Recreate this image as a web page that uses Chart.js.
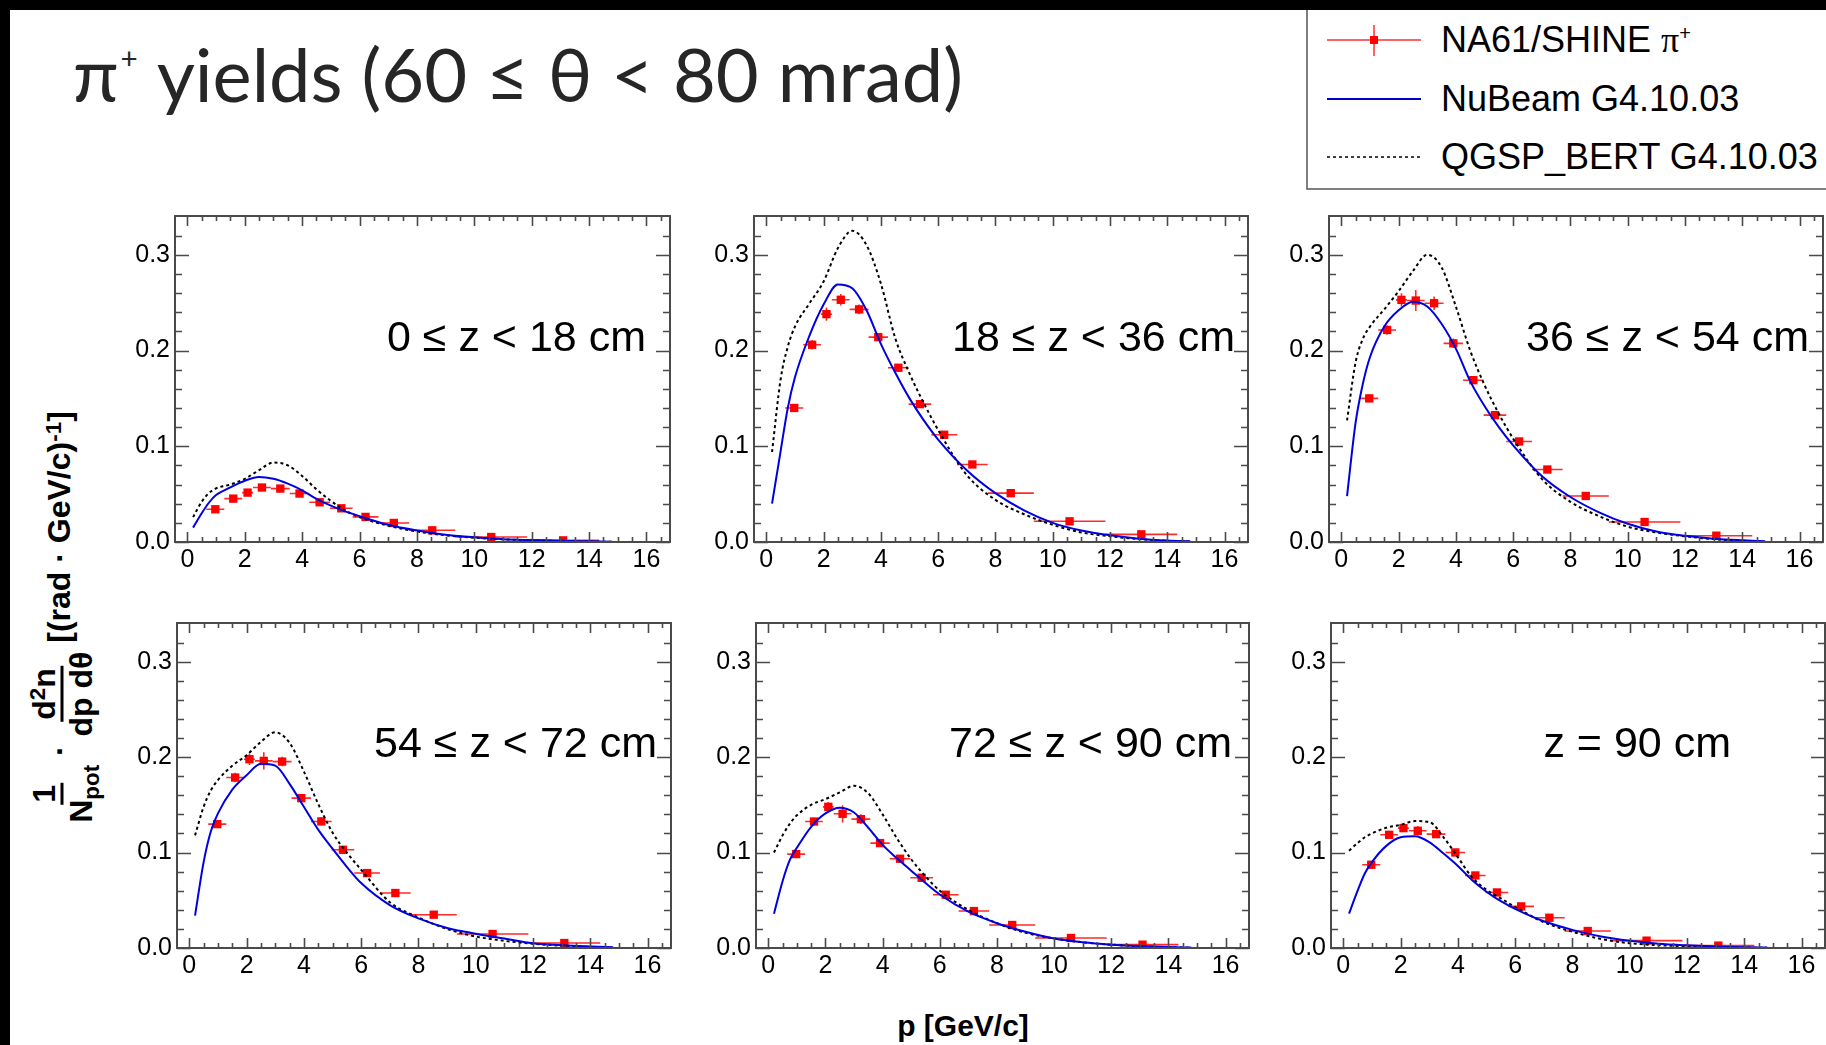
<!DOCTYPE html>
<html>
<head>
<meta charset="utf-8">
<script src="https://cdn.jsdelivr.net/npm/chart.js@4.4.0/dist/chart.umd.min.js"></script>
<style>
  html, body { margin:0; padding:0; width:1826px; height:1045px; overflow:hidden; background:#fff; }
  .abs { position:absolute; }
  #bandTop { left:0; top:0; width:1826px; height:10px; background:#000; z-index:10; }
  #bandLeft { left:0; top:0; width:10px; height:1045px; background:#000; z-index:10; }
  canvas { position:absolute; }
  #title { left:73px; top:37px; font-family:'Lato','Open Sans',sans-serif; font-weight:400; font-size:74px; color:#262626; white-space:nowrap; line-height:1; }
  #title sup { font-size:0.4em; position:relative; top:-1.1em; vertical-align:baseline; margin-left:2px; }
  .plabel { font-family:'Liberation Sans', Arial, sans-serif; font-size:43px; line-height:1; color:#000; width:440px; text-align:right; white-space:nowrap; }
  .ltext { font-family:'Liberation Sans', Arial, sans-serif; font-size:36px; line-height:1; color:#000; white-space:nowrap; left:1441px; }
  .ltext .pi { font-family:'Liberation Serif','DejaVu Serif',serif; }
  .ltext sup { font-size:0.55em; position:relative; top:-0.6em; vertical-align:baseline; }
  #xtitle { left:763px; width:400px; text-align:center; top:1011px; font-family:'Liberation Sans', Arial, sans-serif; font-weight:bold; font-size:30px; line-height:1; color:#000; }
  #ytitle { left:62px; top:617px; transform:translate(-50%,-50%) rotate(-90deg); font-family:'Liberation Sans', Arial, sans-serif; font-weight:bold; font-size:32px; line-height:1; color:#000; white-space:nowrap; }
  #ytitle .frac { display:inline-flex; flex-direction:column; align-items:center; vertical-align:middle; }
  #ytitle .num { border-bottom:3px solid #000; padding:0 2px 1px 2px; }
  #ytitle .den { padding-top:1px; }
  #ytitle sub { font-size:0.7em; vertical-align:baseline; position:relative; top:0.3em; }
  #ytitle sup { font-size:0.7em; vertical-align:baseline; position:relative; top:-0.45em; }
</style>
</head>
<body>
<div id="bandTop" class="abs"></div>
<div id="bandLeft" class="abs"></div>

<div id="title" class="abs">π<sup>+</sup> yields (60 ≤ θ &lt; 80 mrad)</div>

<svg class="abs" style="left:0;top:0;z-index:5" width="1826" height="200">
  <rect x="1307" y="-5" width="540" height="194" fill="#fff" stroke="#555" stroke-width="1.5"/>
  <line x1="1327" y1="40" x2="1421" y2="40" stroke="#ff3030" stroke-width="1.5"/>
  <line x1="1374" y1="25" x2="1374" y2="56" stroke="#ff3030" stroke-width="1.5"/>
  <rect x="1370" y="36" width="8" height="8" fill="#ff0000"/>
  <line x1="1327" y1="99" x2="1421" y2="99" stroke="#0000cc" stroke-width="2"/>
  <line x1="1327" y1="157" x2="1421" y2="157" stroke="#000" stroke-width="1.5" stroke-dasharray="3,3"/>
</svg>
<div class="abs ltext" style="top:22px;z-index:6">NA61/SHINE <span class="pi">π</span><sup>+</sup></div>
<div class="abs ltext" style="top:81px;z-index:6">NuBeam G4.10.03</div>
<div class="abs ltext" style="top:139px;z-index:6">QGSP_BERT G4.10.03</div>

<canvas id="c1"></canvas>
<canvas id="c2"></canvas>
<canvas id="c3"></canvas>
<canvas id="c4"></canvas>
<canvas id="c5"></canvas>
<canvas id="c6"></canvas>

<div id="pl1" class="abs plabel">0 ≤ z &lt; 18 cm</div>
<div id="pl2" class="abs plabel">18 ≤ z &lt; 36 cm</div>
<div id="pl3" class="abs plabel">36 ≤ z &lt; 54 cm</div>
<div id="pl4" class="abs plabel">54 ≤ z &lt; 72 cm</div>
<div id="pl5" class="abs plabel">72 ≤ z &lt; 90 cm</div>
<div id="pl6" class="abs plabel">z = 90 cm</div>

<div id="xtitle" class="abs">p [GeV/c]</div>
<div id="ytitle" class="abs"><span class="frac"><span class="num">1</span><span class="den">N<sub>pot</sub></span></span> · <span class="frac"><span class="num">d<sup>2</sup>n</span><span class="den">dp dθ</span></span> [(rad · GeV/c)<sup>-1</sup>]</div>

<script>
// ---------------- data ----------------
const xTickLabels = ['0','2','4','6','8','10','12','14','16'];
const yTickLabels = ['0.0','0.1','0.2','0.3'];

// momentum bins of the NA61/SHINE points (GeV/c)
const binLow  = [0.66, 1.29, 1.91, 2.29, 2.91, 3.57, 4.25, 4.97, 5.76, 6.66, 7.73, 9.34, 11.84];
const binHigh = [1.29, 1.91, 2.29, 2.91, 3.57, 4.25, 4.97, 5.76, 6.66, 7.73, 9.34, 11.84, 14.35];

// NA61/SHINE yields per z-bin
const na61_z0  = [0.0342, 0.0453, 0.0516, 0.0569, 0.0558, 0.0506, 0.0415, 0.0352, 0.0262, 0.0199, 0.0122, 0.0052, 0.0017];
const na61_z18 = [0.140, 0.206, 0.238, 0.253, 0.243, 0.214, 0.182, 0.144, 0.112, 0.081, 0.051, 0.0216, 0.008];
const na61_z36 = [0.150, 0.2215, 0.2529, 0.2522, 0.2494, 0.2075, 0.169, 0.1325, 0.105, 0.0757, 0.0481, 0.0209, 0.0066];
const na61_z54 = [0.1298, 0.1786, 0.1978, 0.196, 0.1953, 0.157, 0.1326, 0.1029, 0.0785, 0.0576, 0.0349, 0.0147, 0.0052];
const na61_z72 = [0.0984, 0.1325, 0.1479, 0.1406, 0.135, 0.1099, 0.0935, 0.0736, 0.0558, 0.0387, 0.0241, 0.0105, 0.0035];
const na61_z90 = [0.0872, 0.1186, 0.1256, 0.1228, 0.1193, 0.1001, 0.076, 0.0582, 0.0436, 0.0317, 0.0178, 0.0077, 0.0025];

// uncertainties
const err_z0  = [0.002, 0.002, 0.002, 0.003, 0.003, 0.002, 0.002, 0.002, 0.0015, 0.0012, 0.001, 0.0006, 0.0003];
const err_z18 = [0.004, 0.005, 0.007, 0.006, 0.005, 0.004, 0.004, 0.003, 0.003, 0.0025, 0.002, 0.001, 0.0006];
const err_z36 = [0.004, 0.005, 0.007, 0.011, 0.007, 0.005, 0.004, 0.003, 0.003, 0.0025, 0.002, 0.001, 0.0006];
const err_z54 = [0.004, 0.005, 0.006, 0.009, 0.005, 0.004, 0.004, 0.003, 0.003, 0.0025, 0.002, 0.001, 0.0006];
const err_z72 = [0.003, 0.004, 0.005, 0.009, 0.005, 0.004, 0.003, 0.003, 0.0025, 0.002, 0.0015, 0.001, 0.0005];
const err_z90 = [0.003, 0.004, 0.004, 0.005, 0.004, 0.003, 0.003, 0.0025, 0.002, 0.0015, 0.0012, 0.0008, 0.0004];

// momentum grid of the simulation curves
const pGrid = [0.2, 0.5, 0.75, 1.0, 1.5, 2.0, 2.5, 3.0, 3.5, 4.0, 4.5, 5.0, 5.5, 6.0, 7.0, 8.0, 9.0, 10.0, 11.0, 12.0, 13.0, 14.0, 14.8];

// NuBeam G4.10.03
const nubeam_z0  = [0.015, 0.030, 0.041, 0.049, 0.057, 0.064, 0.068, 0.066, 0.061, 0.054, 0.045, 0.038, 0.032, 0.027, 0.018, 0.012, 0.0075, 0.005, 0.003, 0.002, 0.0012, 0.0007, 0.0003];
const nubeam_z18 = [0.040, 0.095, 0.140, 0.172, 0.215, 0.248, 0.269, 0.265, 0.242, 0.207, 0.177, 0.150, 0.127, 0.107, 0.075, 0.051, 0.033, 0.020, 0.012, 0.007, 0.0035, 0.0015, 0.0007];
const nubeam_z36 = [0.048, 0.125, 0.165, 0.193, 0.225, 0.242, 0.251, 0.246, 0.228, 0.202, 0.168, 0.142, 0.120, 0.101, 0.069, 0.047, 0.031, 0.019, 0.011, 0.0065, 0.0035, 0.0018, 0.0008];
const nubeam_z54 = [0.034, 0.090, 0.122, 0.141, 0.166, 0.181, 0.193, 0.191, 0.172, 0.148, 0.124, 0.104, 0.085, 0.068, 0.045, 0.031, 0.021, 0.015, 0.010, 0.005, 0.003, 0.0015, 0.0007];
const nubeam_z72 = [0.036, 0.070, 0.092, 0.105, 0.127, 0.141, 0.147, 0.142, 0.126, 0.108, 0.094, 0.081, 0.068, 0.056, 0.038, 0.026, 0.017, 0.010, 0.006, 0.0035, 0.002, 0.001, 0.0005];
const nubeam_z90 = [0.036, 0.060, 0.078, 0.090, 0.107, 0.116, 0.117, 0.111, 0.099, 0.086, 0.071, 0.059, 0.049, 0.041, 0.028, 0.019, 0.012, 0.0075, 0.0045, 0.0028, 0.0016, 0.0008, 0.0004];

// QGSP_BERT G4.10.03
const qgsp_z0  = [0.026, 0.042, 0.051, 0.056, 0.060, 0.066, 0.075, 0.083, 0.080, 0.069, 0.055, 0.043, 0.033, 0.026, 0.017, 0.011, 0.007, 0.0045, 0.0028, 0.0018, 0.001, 0.0005, 0.0002];
const qgsp_z18 = [0.094, 0.170, 0.204, 0.225, 0.249, 0.272, 0.307, 0.325, 0.310, 0.270, 0.213, 0.176, 0.145, 0.117, 0.070, 0.044, 0.029, 0.018, 0.010, 0.006, 0.003, 0.0012, 0.0004];
const qgsp_z36 = [0.127, 0.188, 0.212, 0.225, 0.243, 0.262, 0.283, 0.300, 0.287, 0.246, 0.200, 0.164, 0.134, 0.108, 0.066, 0.042, 0.027, 0.016, 0.010, 0.006, 0.003, 0.0013, 0.0004];
const qgsp_z54 = [0.118, 0.148, 0.165, 0.176, 0.191, 0.202, 0.216, 0.226, 0.215, 0.185, 0.151, 0.121, 0.100, 0.082, 0.048, 0.032, 0.020, 0.012, 0.0075, 0.0045, 0.0025, 0.0012, 0.0004];
const qgsp_z72 = [0.100, 0.118, 0.130, 0.139, 0.150, 0.156, 0.163, 0.170, 0.162, 0.140, 0.115, 0.093, 0.075, 0.060, 0.040, 0.026, 0.016, 0.010, 0.006, 0.0035, 0.0018, 0.0008, 0.0003];
const qgsp_z90 = [0.102, 0.110, 0.116, 0.120, 0.126, 0.129, 0.133, 0.132, 0.116, 0.095, 0.074, 0.061, 0.052, 0.043, 0.027, 0.017, 0.0095, 0.005, 0.003, 0.0018, 0.001, 0.0005, 0.0002];

// ---------------- layout (frame boxes in page pixels) ----------------
const PAD_L = 70, PAD_T = 10, PAD_R = 10, PAD_B = 40;
const frames = [
  {id:'c1', L:175, T:216, R:670,  B:542, lab:'pl1', labR:646,  labBase:351},
  {id:'c2', L:754, T:216, R:1248, B:542, lab:'pl2', labR:1235, labBase:351},
  {id:'c3', L:1329,T:216, R:1823, B:542, lab:'pl3', labR:1809, labBase:351},
  {id:'c4', L:177, T:623, R:671,  B:948, lab:'pl4', labR:657,  labBase:757},
  {id:'c5', L:756, T:623, R:1249, B:948, lab:'pl5', labR:1232, labBase:757},
  {id:'c6', L:1331,T:623, R:1825, B:948, lab:'pl6', labR:1731, labBase:757}
];
const panels = [
  {na61:na61_z0,  err:err_z0,  nub:nubeam_z0,  qg:qgsp_z0},
  {na61:na61_z18, err:err_z18, nub:nubeam_z18, qg:qgsp_z18},
  {na61:na61_z36, err:err_z36, nub:nubeam_z36, qg:qgsp_z36},
  {na61:na61_z54, err:err_z54, nub:nubeam_z54, qg:qgsp_z54},
  {na61:na61_z72, err:err_z72, nub:nubeam_z72, qg:qgsp_z72},
  {na61:na61_z90, err:err_z90, nub:nubeam_z90, qg:qgsp_z90}
];

const X_MIN = -0.43, X_MAX = 16.82, Y_MIN = 0, Y_MAX = 0.3405;

// error bars drawn under the markers, through the chart scales
const errorBarPlugin = {
  id: 'errorBars',
  beforeDatasetsDraw(chart) {
    const {ctx, chartArea, scales:{x, y}} = chart;
    const pd = chart.options.plugins.errorBars;
    ctx.save();
    ctx.beginPath();
    ctx.rect(chartArea.left, chartArea.top, chartArea.right - chartArea.left, chartArea.bottom - chartArea.top);
    ctx.clip();
    ctx.strokeStyle = '#ff2a2a';
    ctx.lineWidth = 1.6;
    for (let i = 0; i < pd.values.length; i++) {
      const xc = x.getPixelForValue((binLow[i] + binHigh[i]) / 2);
      const yc = y.getPixelForValue(pd.values[i]);
      ctx.beginPath();
      ctx.moveTo(x.getPixelForValue(binLow[i]), yc);
      ctx.lineTo(x.getPixelForValue(binHigh[i]), yc);
      ctx.moveTo(xc, y.getPixelForValue(pd.values[i] - pd.errors[i]));
      ctx.lineTo(xc, y.getPixelForValue(pd.values[i] + pd.errors[i]));
      ctx.stroke();
    }
    ctx.restore();
  }
};

// ROOT-style frame with inward ticks on all four sides
const framePlugin = {
  id: 'rootFrame',
  afterDraw(chart) {
    const {ctx, chartArea:a, scales:{x, y}} = chart;
    ctx.save();
    ctx.strokeStyle = '#4a4a4a';
    ctx.lineWidth = 1.6;
    for (let k = 0; k <= 33; k++) {
      const v = k * 0.5;
      if (v < X_MIN || v > X_MAX) continue;
      const px = Math.round(x.getPixelForValue(v)) + 0.5;
      const len = (k % 4 === 0) ? 10 : 5;
      ctx.beginPath();
      ctx.moveTo(px, a.bottom); ctx.lineTo(px, a.bottom - len);
      ctx.moveTo(px, a.top); ctx.lineTo(px, a.top + len);
      ctx.stroke();
    }
    for (let k = 0; k <= 17; k++) {
      const v = k * 0.02;
      if (v > Y_MAX - 0.002) continue;
      const py = Math.round(y.getPixelForValue(v)) + 0.5;
      const len = (k % 5 === 0) ? 14 : 7;
      ctx.beginPath();
      ctx.moveTo(a.left, py); ctx.lineTo(a.left + len, py);
      ctx.moveTo(a.right, py); ctx.lineTo(a.right - len, py);
      ctx.stroke();
    }
    ctx.lineWidth = 2;
    ctx.strokeRect(a.left, a.top, a.right - a.left, a.bottom - a.top);
    ctx.restore();
  }
};

frames.forEach((f, i) => {
  const cv = document.getElementById(f.id);
  const w = (f.R - f.L) + PAD_L + PAD_R;
  const h = (f.B - f.T) + PAD_T + PAD_B;
  cv.width = w; cv.height = h;
  cv.style.width = w + 'px'; cv.style.height = h + 'px';
  cv.style.left = (f.L - PAD_L) + 'px';
  cv.style.top = (f.T - PAD_T) + 'px';

  const lab = document.getElementById(f.lab);
  lab.style.left = (f.labR - 440) + 'px';
  lab.style.top = (f.labBase - 36.4) + 'px';

  const P = panels[i];
  new Chart(cv.getContext('2d'), {
    type: 'scatter',
    data: {
      datasets: [
        { label: 'NuBeam G4.10.03', data: pGrid.map((p, k) => ({x:p, y:P.nub[k]})),
          showLine: true, borderColor: '#0000e0', borderWidth: 2, pointRadius: 0,
          cubicInterpolationMode: 'monotone', fill: false },
        { label: 'QGSP_BERT G4.10.03', data: pGrid.map((p, k) => ({x:p, y:P.qg[k]})),
          showLine: true, borderColor: '#000', borderWidth: 2, borderDash: [3, 3], pointRadius: 0,
          cubicInterpolationMode: 'monotone', fill: false },
        { label: 'NA61/SHINE π+', data: P.na61.map((v, k) => ({x:(binLow[k] + binHigh[k]) / 2, y:v})),
          showLine: false, pointStyle: 'rect', pointRadius: 5.9, borderWidth: 0,
          backgroundColor: '#ff0000', borderColor: '#ff0000' }
      ]
    },
    options: {
      responsive: false, animation: false, devicePixelRatio: 1,
      events: [],
      layout: { padding: { left: 0, top: PAD_T, right: PAD_R, bottom: 0 } },
      plugins: { legend: { display: false }, tooltip: { enabled: false },
                 errorBars: { values: P.na61, errors: P.err } },
      scales: {
        x: {
          type: 'linear', min: X_MIN, max: X_MAX,
          grid: { display: false, drawTicks: false }, border: { display: false },
          afterBuildTicks: s => { s.ticks = xTickLabels.map(t => ({ value: parseFloat(t) })); },
          afterFit: s => { s.height = PAD_B; s.paddingLeft = 0; s.paddingRight = 0; },
          ticks: { autoSkip: false, maxRotation: 0, minRotation: 0, padding: 3, color: '#000',
                   font: { family: 'Liberation Sans', size: 25 },
                   callback: (v, idx) => xTickLabels[idx] }
        },
        y: {
          type: 'linear', min: Y_MIN, max: Y_MAX,
          grid: { display: false, drawTicks: false }, border: { display: false },
          afterBuildTicks: s => { s.ticks = yTickLabels.map(t => ({ value: parseFloat(t) })); },
          afterFit: s => { s.width = PAD_L; s.paddingTop = 0; s.paddingBottom = 0; },
          ticks: { autoSkip: false, padding: 5, color: '#000',
                   font: { family: 'Liberation Sans', size: 25 },
                   callback: (v, idx) => yTickLabels[idx] }
        }
      }
    },
    plugins: [errorBarPlugin, framePlugin]
  });
});
</script>
</body>
</html>
